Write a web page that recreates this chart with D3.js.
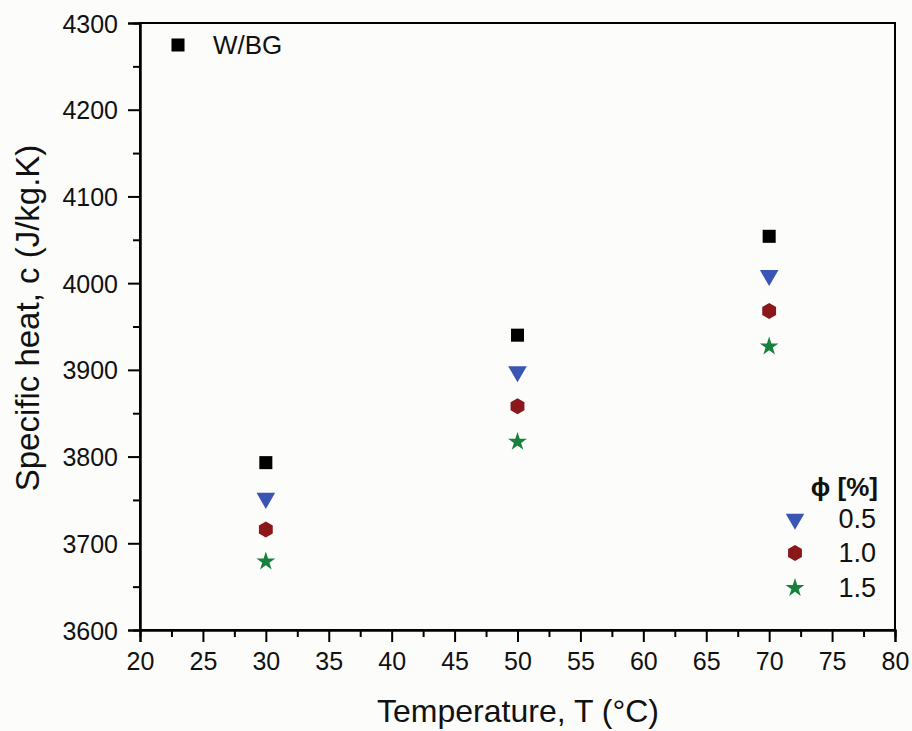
<!DOCTYPE html>
<html><head><meta charset="utf-8">
<script src="https://cdn.jsdelivr.net/npm/d3@7"></script>
<style>body{margin:0;background:#fcfcfa;} svg{display:block;} text{font-family:"Liberation Sans",Arial,sans-serif;}</style>
</head><body>
<script>
const temps = [30, 50, 70];
const wbg = [3793, 3940, 4054];
const phi05 = [3752, 3898, 4009];
const phi10 = [3716, 3858, 3968];
const phi15 = [3679, 3817, 3927];
const xTicks = d3.range(20, 81, 5);
const yTicks = d3.range(3600, 4301, 100);
const series = [
  {name: "W/BG", values: wbg, symbol: d3.symbolSquare, color: "#000000", size: 170, rot: 0},
  {name: "0.5", values: phi05, symbol: d3.symbolTriangle, color: "#3b55b5", size: 150, rot: 180},
  {name: "1.0", values: phi10, symbol: "hex", color: "#8a1719", size: 0, rot: 0},
  {name: "1.5", values: phi15, symbol: d3.symbolStar, color: "#17803c", size: 110, rot: 0}
];

const W = 912, H = 731;
const m = {left: 140, right: 17, top: 23, bottom: 101};
const svg = d3.select("body").append("svg").attr("width", W).attr("height", H);
const x = d3.scaleLinear().domain([20, 80]).range([m.left, W - m.right]);
const y = d3.scaleLinear().domain([3600, 4300]).range([H - m.bottom, m.top]);

function hexPath(r) {
  const pts = d3.range(6).map(i => {
    const a = Math.PI / 6 + i * Math.PI / 3;
    return [r * Math.cos(a), r * Math.sin(a)];
  });
  return "M" + pts.map(p => p.join(",")).join("L") + "Z";
}
function symPath(s) {
  if (s.symbol === "hex") return hexPath(8);
  return d3.symbol().type(s.symbol).size(s.size)();
}

// frame
svg.append("rect").attr("x", m.left).attr("y", m.top)
  .attr("width", W - m.right - m.left).attr("height", H - m.bottom - m.top)
  .attr("fill", "none").attr("stroke", "#000").attr("stroke-width", 2);

// minor and major ticks
const gx = svg.append("g").attr("transform", `translate(0,${H - m.bottom})`);
gx.call(d3.axisBottom(x).tickValues(d3.range(22.5, 80, 5)).tickSize(7).tickFormat(""));
const gxm = svg.append("g").attr("transform", `translate(0,${H - m.bottom})`);
gxm.call(d3.axisBottom(x).tickValues(xTicks).tickSize(12).tickPadding(10).tickFormat(d3.format("d")));
const gy = svg.append("g").attr("transform", `translate(${m.left},0)`);
gy.call(d3.axisLeft(y).tickValues(d3.range(3650, 4300, 100)).tickSize(7).tickFormat(""));
const gym = svg.append("g").attr("transform", `translate(${m.left},0)`);
gym.call(d3.axisLeft(y).tickValues(yTicks).tickSize(12).tickPadding(10).tickFormat(d3.format("d")));
svg.selectAll(".domain").attr("stroke", "#000").attr("stroke-width", 2);
svg.selectAll(".tick line").attr("stroke", "#000").attr("stroke-width", 2);
svg.selectAll(".tick text").attr("font-size", 25).attr("fill", "#111")
  .style("font-family", "'Liberation Sans',Arial,sans-serif");
gym.selectAll(".tick text").attr("dy", "0.36em");

// points
series.forEach(s => {
  svg.append("g").selectAll("path").data(s.values).join("path")
    .attr("d", symPath(s))
    .attr("transform", (v, i) => `translate(${x(temps[i])},${y(v)}) rotate(${s.rot})`)
    .attr("fill", s.color);
});

// axis titles
svg.append("text").attr("x", 518).attr("y", 722)
  .attr("text-anchor", "middle").attr("font-size", 32).attr("fill", "#111")
  .text("Temperature, T (\u00B0C)");
svg.append("text").attr("transform", `translate(39,318) rotate(-90)`)
  .attr("text-anchor", "middle").attr("font-size", 33).attr("fill", "#111")
  .text("Specific heat, c (J/kg.K)");

// legend W/BG
svg.append("path").attr("d", symPath(series[0])).attr("transform", "translate(178,45)").attr("fill", "#000");
svg.append("text").attr("x", 213).attr("y", 54).attr("font-size", 26).attr("fill", "#111").text("W/BG");

// legend phi
svg.append("text").attr("x", 878).attr("y", 496).attr("text-anchor", "end")
  .attr("font-size", 26).attr("font-weight", "bold").attr("fill", "#111").text("\u03D5 [%]");
const ly = [519, 553, 588];
series.slice(1).forEach((s, i) => {
  svg.append("path").attr("d", symPath(s))
    .attr("transform", `translate(795,${ly[i]}) rotate(${s.rot})`).attr("fill", s.color);
  svg.append("text").attr("x", 876).attr("y", ly[i] + 9).attr("text-anchor", "end")
    .attr("font-size", 27).attr("fill", "#111").text(s.name);
});
</script>
</body></html>
